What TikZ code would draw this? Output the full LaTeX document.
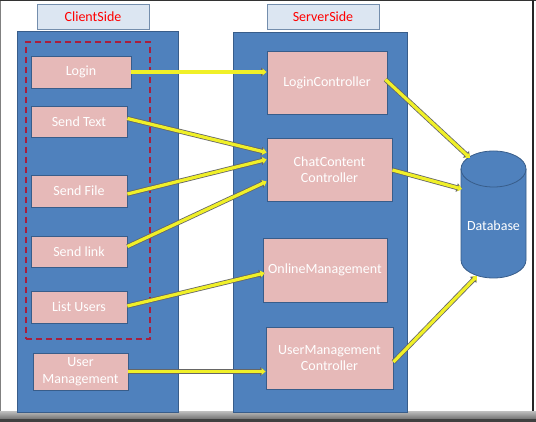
\documentclass[tikz,border=0pt]{standalone}
\usepackage{fontspec}
\setmainfont{Carlito}
\usetikzlibrary{arrows.meta,calc}
\definecolor{bblue}{RGB}{79,129,189}
\definecolor{bborder}{RGB}{56,93,138}
\definecolor{pinkbox}{RGB}{230,185,184}
\definecolor{titlefill}{RGB}{220,230,242}
\definecolor{dashred}{RGB}{170,30,60}
\definecolor{yel}{RGB}{240,240,40}
\tikzset{
  panel/.style={draw=bborder, fill=bblue, line width=0.8pt},
  titlebox/.style={draw=bborder!70, fill=titlefill, line width=0.8pt, text=red, font=\fontsize{14}{16}\selectfont},
  pbox/.style={draw=bborder, fill=pinkbox, line width=0.8pt, text=white, font=\fontsize{14}{16.5}\selectfont, align=center, inner sep=0pt},
  conn/.style={draw=yel, line width=3.2pt, -{Triangle[length=4pt,width=6.5pt]},
    preaction={draw=black!60, line width=4.8pt, -{Triangle[length=5.5pt,width=8.5pt]}}},
}
\begin{document}
\begin{tikzpicture}[x=1pt,y=-1pt]
\useasboundingbox (0,0) rectangle (536,422);
\fill[white] (0,0) rectangle (536,422);
% frame
\draw[black!50, line width=1pt] (0.5,0) -- (0.5,412);
\draw[black!80, line width=0.8pt] (0,0.4) -- (536,0.4);
\draw[black!85, line width=2pt] (533,0) -- (533,412);
\shade[top color=black!25, bottom color=black!55] (0,411) rectangle (536,419);
\fill[black!75] (0,419) rectangle (536,422);

% titles
\node[titlebox, minimum width=112, minimum height=25] (ct) at (93,16.5) {ClientSide};
\node[titlebox, minimum width=112, minimum height=25] (stt) at (323,16.5) {ServerSide};

% panels
\node[panel, minimum width=161, minimum height=381, inner sep=0pt] (cp) at (97.5,221.5) {};
\node[panel, minimum width=174, minimum height=380, inner sep=0pt] (sp) at (320,222) {};

% dashed group
\node[draw=dashred, dashed, dash pattern=on 6pt off 4pt, line width=1.2pt, minimum width=124, minimum height=297, inner sep=0pt] (grp) at (88,190.5) {};

% client boxes
\node[pbox, minimum width=100, minimum height=32] (login) at (81,72) {Login};
\node[pbox, minimum width=96, minimum height=31] (stxt) at (79,121.5) {Send Text};
\node[pbox, minimum width=96, minimum height=32] (sfile) at (79,191) {Send File};
\node[pbox, minimum width=96, minimum height=31] (slink) at (79,251.5) {Send link};
\node[pbox, minimum width=96, minimum height=32] (lusers) at (79,307) {List Users};
\node[pbox, minimum width=95, minimum height=37] (umgmt) at (80.5,371.5) {User\\Management};

% server boxes
\node[pbox, minimum width=120, minimum height=63] (lc) at (327,82.5) {LoginController};
\node[pbox, minimum width=125, minimum height=63] (cc) at (329.5,169.5) {ChatContent\\Controller};
\node[pbox, minimum width=124, minimum height=64] (om) at (325,270) {OnlineManagement};
\node[pbox, minimum width=127, minimum height=62] (umc) at (329.5,358) {UserManagement\\Controller};

% database cylinder
\fill[bblue, draw=bborder, line width=0.8pt] (461,169) -- (461,260) arc[start angle=180, end angle=0, x radius=32.5, y radius=18] -- (526,169) arc[start angle=0, end angle=-180, x radius=32.5, y radius=18] -- cycle;
\draw[bborder, line width=0.8pt] (461,169) arc[start angle=180, end angle=0, x radius=32.5, y radius=18];
\node[text=white, font=\fontsize{14}{16}\selectfont, minimum width=65, minimum height=128, inner sep=0pt] (db) at (493.5,226) {Database};
\coordinate (dbA) at (470,158);
\coordinate (dbB) at (462,189);
\coordinate (dbC) at (477,276);

% connectors
\draw[conn] (login.east) -- (lc.west |- login.east);
\draw[conn] ($(stxt.east)+(0,-3)$) -- ($(cc.west)+(0,-17)$);
\draw[conn] ($(sfile.east)+(0,3)$) -- ($(cc.west)+(0,-10)$);
\draw[conn] ($(slink.east)+(0,-5)$) -- ($(cc.west)+(0,12)$);
\draw[conn] ($(lusers.east)+(0,-1)$) -- ($(om.west)+(2,3)$);
\draw[conn] (umgmt.east) -- (umc.west |- umgmt.east);
\draw[conn] ($(lc.east)+(-2,-3)$) -- (dbA);
\draw[conn] ($(cc.east)+(0,0.5)$) -- (dbB);
\draw[conn] ($(umc.east)+(0,4)$) -- (dbC);
\end{tikzpicture}
\end{document}
